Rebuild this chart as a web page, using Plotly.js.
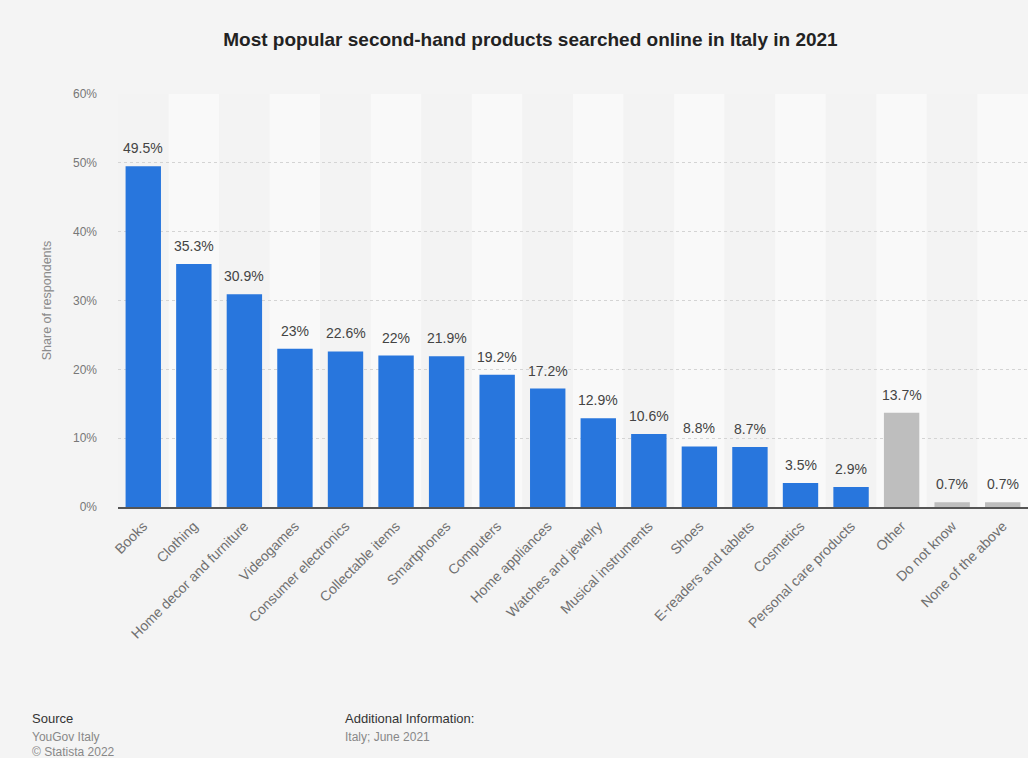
<!DOCTYPE html>
<html>
<head>
<meta charset="utf-8">
<script src="https://cdn.plot.ly/plotly-3.0.1.min.js"></script>
<style>
html,body{margin:0;padding:0;background:#f4f4f4;}
#chart{width:1028px;height:758px;}
</style>
</head>
<body>
<div id="chart"></div>
<script>
const categories = ["Books","Clothing","Home decor and furniture","Videogames","Consumer electronics","Collectable items","Smartphones","Computers","Home appliances","Watches and jewelry","Musical instruments","Shoes","E-readers and tablets","Cosmetics","Personal care products","Other","Do not know","None of the above"];
const values = [49.5,35.3,30.9,23,22.6,22,21.9,19.2,17.2,12.9,10.6,8.8,8.7,3.5,2.9,13.7,0.7,0.7];
const labels = ["49.5%","35.3%","30.9%","23%","22.6%","22%","21.9%","19.2%","17.2%","12.9%","10.6%","8.8%","8.7%","3.5%","2.9%","13.7%","0.7%","0.7%"];
const grayCats = ["Other","Do not know","None of the above"];
const yTicks = [0,10,20,30,40,50,60];
const yTickText = ["0%","10%","20%","30%","40%","50%","60%"];

const font = "Liberation Sans, Arial, sans-serif";
const colors = categories.map(c => grayCats.includes(c) ? "#bebebe" : "#2876dd");

// alternating column bands
const shapes = [];
categories.forEach((c, i) => {
  shapes.push({type:"rect", xref:"x", yref:"paper", x0:i-0.5, x1:i+0.5, y0:0, y1:1,
    fillcolor: i % 2 === 0 ? "#f3f3f3" : "#f9f9f9", line:{width:0}, layer:"below"});
});

const trace = {
  type:"bar", x:categories, y:values,
  marker:{color:colors}, hoverinfo:"skip"
};

const annotations = categories.map((c, i) => ({
  x:c, y:values[i], xref:"x", yref:"y", text:labels[i], showarrow:false,
  yanchor:"middle", yshift:18, font:{family:font, size:14, color:"#444"}
}));

const foot = [
  ["Source", -0.0967, -0.513, 13, "#333"],
  ["YouGov Italy", -0.0967, -0.557, 12, "#888"],
  ["© Statista 2022", -0.0967, -0.594, 12, "#888"],
  ["Additional Information:", 0.247, -0.513, 13, "#333"],
  ["Italy; June 2021", 0.247, -0.557, 12, "#888"]
];
foot.forEach(f => annotations.push({text:f[0], xref:"paper", yref:"paper", x:f[1], y:f[2],
  xanchor:"left", yanchor:"middle", showarrow:false, font:{family:font, size:f[3], color:f[4]}}));

const layout = {
  width:1028, height:758,
  paper_bgcolor:"#f4f4f4", plot_bgcolor:"rgba(0,0,0,0)",
  margin:{l:118, r:0, t:94, b:251},
  showlegend:false,
  bargap:0.3,
  title:{text:"<b>Most popular second-hand products searched online in Italy in 2021</b>",
    font:{family:font, size:19, color:"#222"}, x:0.516, xanchor:"center", y:0.948, yanchor:"middle"},
  xaxis:{type:"category", tickangle:-45, tickfont:{family:font, size:14, color:"#707070"},
    ticklabelstandoff:4,
    showgrid:false, showline:true, linecolor:"#555", linewidth:1.5, ticks:"", range:[-0.5,17.5], fixedrange:true},
  yaxis:{range:[0,60], tickvals:yTicks, ticktext:yTickText, tickfont:{family:font, size:12, color:"#777"},
    ticklabelstandoff:20,
    showgrid:true, gridcolor:"#d4d4d4", griddash:"dot", gridwidth:1, zeroline:false, ticks:"", ticklen:0,
    title:{text:"Share of respondents", font:{family:font, size:12.5, color:"#8a8a8a"}, standoff:18}},
  shapes:shapes,
  annotations:annotations
};
Plotly.newPlot("chart", [trace], layout, {displayModeBar:false, staticPlot:true});
</script>
</body>
</html>
